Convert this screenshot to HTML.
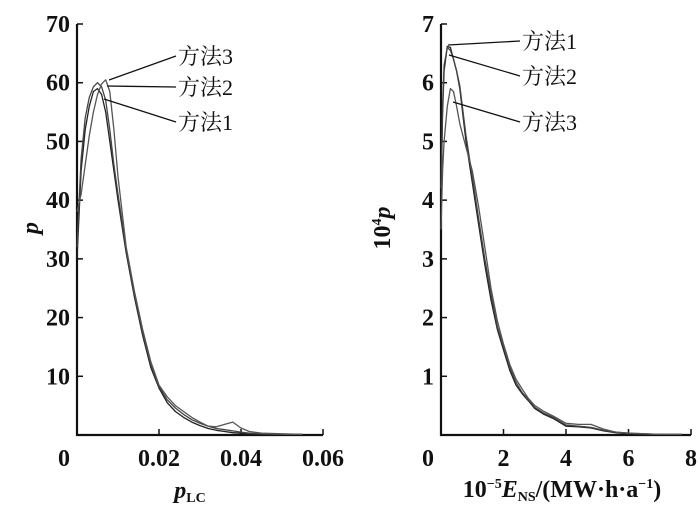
<!DOCTYPE html>
<html><head><meta charset="utf-8">
<style>
body{margin:0;background:#fff;}
svg{display:block;}
text{font-family:"Liberation Serif","Noto Serif CJK SC",serif;fill:#111;}
.tick{font-size:24px;font-weight:bold;}
.lab{font-size:22px;}
</style></head>
<body>
<svg id="c" width="700" height="510" viewBox="0 0 700 510"></svg>
<script>
// Left chart data
const leftX = [0,0.001,0.002,0.003,0.004,0.005,0.006,0.007,0.008,0.009,0.010,0.012,0.014,0.016,0.018,0.020,0.022,0.024,0.026,0.028,0.030,0.032,0.034,0.036,0.038,0.040,0.042,0.045,0.050,0.055];
const leftM1 = [30,45,52,56,58.5,59,58,55,50,45,40,31,23.5,17,11.5,8,5.5,4,3,2.2,1.6,1.1,0.8,0.6,0.4,0.3,0.2,0.15,0.1,0.1];
const leftM2 = [32,47,54,57.5,59.3,60,59.3,57,52,46,41,31.5,24,17.5,12,8.3,6,4.6,3.5,2.6,2,1.5,1.1,0.9,0.7,0.5,0.3,0.2,0.1,0.1];
const leftM3 = [38,41,46,51,55,58,59.8,60.5,58.5,52,44,32,24.5,18,12.5,8.5,6.5,5,4,3,2.2,1.5,1.4,1.8,2.2,1.2,0.6,0.3,0.2,0.1];
const leftYTicks = [0,10,20,30,40,50,60,70];
const leftXTicks = [0.02,0.04,0.06];
const leftXTickLabels = ["0.02","0.04","0.06"];
// Right chart data
const rightX = [0,0.05,0.1,0.2,0.3,0.4,0.5,0.6,0.8,1.0,1.2,1.4,1.6,1.8,2.0,2.2,2.4,2.6,2.8,3.0,3.3,3.6,4.0,4.4,4.8,5.2,5.6,6.0,7.0,7.7];
const rightM1 = [4.0,5.5,6.2,6.62,6.6,6.4,6.2,5.9,5.0,4.3,3.6,2.9,2.3,1.8,1.45,1.1,0.85,0.7,0.58,0.45,0.35,0.28,0.15,0.14,0.12,0.07,0.04,0.02,0.01,0.01];
const rightM2 = [4.2,5.6,6.3,6.6,6.55,6.4,6.2,5.95,5.1,4.4,3.7,3.0,2.4,1.85,1.5,1.15,0.9,0.72,0.6,0.47,0.37,0.3,0.17,0.15,0.13,0.08,0.05,0.03,0.01,0.01];
const rightM3 = [3.5,4.5,5.0,5.6,5.9,5.85,5.6,5.3,4.9,4.5,3.9,3.2,2.5,1.95,1.55,1.2,0.95,0.78,0.62,0.5,0.4,0.32,0.2,0.18,0.18,0.1,0.05,0.03,0.01,0.01];
const rightYTicks = [0,1,2,3,4,5,6,7];
const rightXTicks = [2,4,6,8];

const svg = document.getElementById('c');
const NS = 'http://www.w3.org/2000/svg';
function mk(tag, attrs, parent){const e=document.createElementNS(NS,tag);for(const k in attrs)e.setAttribute(k,attrs[k]);(parent||svg).appendChild(e);return e;}

function panel(cfg){
  const sx=v=>cfg.x0+(v-cfg.xmin)/(cfg.xmax-cfg.xmin)*(cfg.x1-cfg.x0);
  const sy=v=>cfg.y0-(v-cfg.ymin)/(cfg.ymax-cfg.ymin)*(cfg.y0-cfg.y1);
  const g=mk('g',{});
  
  
  const ax=mk('path',{d:`M${cfg.x0},${cfg.y1}V${cfg.y0}H${cfg.x1}`,fill:'none',stroke:'#111','stroke-width':2.2},g);
  
  
  cfg.yTicks.forEach(t=>{
    const y=sy(t);
    const tk=mk('line',{x1:cfg.x0,x2:cfg.x0+6,y1:y,y2:y,stroke:'#111','stroke-width':1.5},g);
    
    
    const tx=mk('text',{x:cfg.x0-7,y:y+8,'text-anchor':'end',class:'tick'},g);
    tx.textContent=t===0?'':t;
    
    
  });
  const z=mk('text',{x:cfg.x0-7,y:cfg.y0+31,'text-anchor':'end',class:'tick'},g);
  z.textContent='0';
  
  
  cfg.xTicks.forEach((t,i)=>{
    const x=sx(t);
    const tk=mk('line',{x1:x,x2:x,y1:cfg.y0,y2:cfg.y0-6,stroke:'#111','stroke-width':1.5},g);
    
    
    const tx=mk('text',{x:x,y:cfg.y0+31,'text-anchor':'middle',class:'tick'},g);
    tx.textContent=cfg.xLabels[i];
    
    
  });
  cfg.series.forEach((s,i)=>{
    const d=cfg.xs.map((v,j)=>(j?'L':'M')+sx(v).toFixed(1)+','+sy(s[j]).toFixed(1)).join('');
    const p=mk('path',{d:d,fill:'none',stroke:['#222','#444','#555'][i],'stroke-width':1.3,'stroke-linejoin':'round'},g);
    
    
  });
  return {sx,sy,g};
}

const L=panel({name:'left-chart',x0:77,x1:323,y0:435,y1:24,xmin:0,xmax:0.06,ymin:0,ymax:70,
  xs:leftX,series:[leftM1,leftM2,leftM3],yTicks:leftYTicks,xTicks:leftXTicks,xLabels:leftXTickLabels});
const R=panel({name:'right-chart',x0:441,x1:691,y0:435,y1:24,xmin:0,xmax:8,ymin:0,ymax:7,
  xs:rightX,series:[rightM1,rightM2,rightM3],yTicks:rightYTicks,xTicks:rightXTicks,xLabels:rightXTicks.map(String)});

function callout(g,x1,y1,x2,y2,label,name){
  const l=mk('line',{x1:x1,y1:y1,x2:x2,y2:y2,stroke:'#111','stroke-width':1.3},g);
  
  
  const t=mk('text',{x:x2+2,y:y2+8,class:'lab'},g);
  t.textContent=label;
  
  
}
callout(L.g,109,80,176,56,'方法3','left-method3');
callout(L.g,107,86,176,87,'方法2','left-method2');
callout(L.g,104,99,176,122,'方法1','left-method1');
callout(R.g,448,45,520,41,'方法1','right-method1');
callout(R.g,449,55,520,76,'方法2','right-method2');
callout(R.g,453,102,520,122,'方法3','right-method3');

function title(x,y,html,rot,name){
  const t=mk('text',{x:x,y:y,'text-anchor':'middle',style:'font-size:24px;font-weight:bold;',transform:rot?`rotate(-90 ${x} ${y})`:''});
  t.innerHTML=html;
  
  
}
title(190,498,'<tspan font-style="italic">p</tspan><tspan font-size="14" dy="4">LC</tspan>',false,'left-x-axis-title');
title(38,228,'<tspan font-style="italic">p</tspan>',true,'left-y-axis-title');
title(562,497,'10<tspan font-size="14" dy="-9">−5</tspan><tspan dy="9" font-style="italic">E</tspan><tspan font-size="14" dy="4">NS</tspan><tspan dy="-4">/(MW·h·a</tspan><tspan font-size="14" dy="-9">−1</tspan><tspan dy="9">)</tspan>',false,'right-x-axis-title');
title(390,228,'10<tspan font-size="14" dy="-9">4</tspan><tspan dy="9" font-style="italic">p</tspan>',true,'right-y-axis-title');
</script>
</body></html>
